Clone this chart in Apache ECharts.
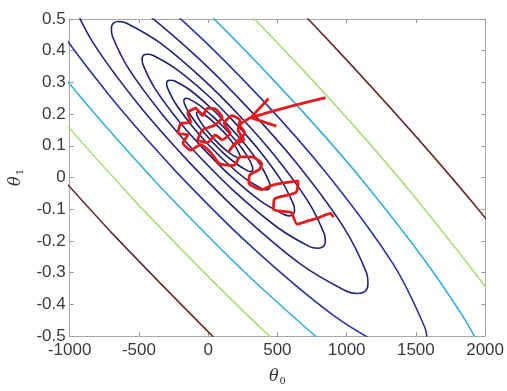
<!DOCTYPE html>
<html><head><meta charset="utf-8">
<script src="https://cdn.jsdelivr.net/npm/echarts@6/dist/echarts.min.js"></script>
<style>html,body{margin:0;padding:0;background:#fff}#c{width:507px;height:391px}</style>
</head><body><div id="c"></div>
<script>
// Axis tick labels
const xTicks = [-1000, -500, 0, 500, 1000, 1500, 2000];
const yTicks = [-0.5, -0.4, -0.3, -0.2, -0.1, 0, 0.1, 0.2, 0.3, 0.4, 0.5];

// Contour lines of J(theta0, theta1), points [theta0, theta1] (inner to outer)
const contour0 = [[42,0.122],[-9,0.148],[-58,0.177],[-82,0.198],[-84,0.203],[-81,0.206],[-73,0.207],[-61,0.206],[-13,0.194],[50,0.170],[105,0.147],[156,0.121],[205,0.092],[229,0.071],[231,0.066],[228,0.063],[220,0.062],[208,0.063],[160,0.075],[97,0.098],[42,0.122]];
const contour1 = [[24,0.115],[-57,0.155],[-134,0.201],[-173,0.235],[-175,0.243],[-170,0.248],[-158,0.250],[-139,0.248],[-64,0.228],[37,0.191],[123,0.154],[204,0.114],[281,0.068],[320,0.034],[322,0.026],[317,0.021],[305,0.019],[286,0.021],[211,0.041],[110,0.077],[24,0.115]];
const contour2 = [[-1,0.105],[-122,0.166],[-238,0.235],[-296,0.285],[-300,0.297],[-293,0.305],[-274,0.307],[-245,0.305],[-132,0.276],[18,0.220],[148,0.163],[269,0.103],[385,0.034],[443,-0.016],[447,-0.029],[440,-0.036],[421,-0.039],[392,-0.036],[279,-0.007],[128,0.049],[-1,0.105]];
const contour3 = [[-37,0.092],[-215,0.180],[-386,0.282],[-471,0.356],[-477,0.375],[-466,0.386],[-439,0.389],[-396,0.385],[-230,0.342],[-7,0.261],[184,0.177],[362,0.089],[533,-0.013],[618,-0.087],[624,-0.106],[613,-0.117],[586,-0.121],[543,-0.116],[377,-0.074],[154,0.008],[-37,0.092]];
const contour4 = [[-81,0.074],[-331,0.199],[-571,0.341],[-691,0.445],[-699,0.471],[-684,0.487],[-645,0.492],[-585,0.486],[-352,0.426],[-40,0.311],[228,0.194],[478,0.070],[718,-0.073],[838,-0.177],[846,-0.203],[831,-0.218],[792,-0.223],[732,-0.218],[499,-0.157],[187,-0.043],[-81,0.074]];
const contour5 = [[-143,0.051],[-492,0.224],[-829,0.424],[-996,0.570],[-1007,0.606],[-986,0.628],[-932,0.635],[-848,0.627],[-523,0.543],[-85,0.382],[290,0.218],[639,0.045],[976,-0.155],[1143,-0.300],[1154,-0.337],[1133,-0.359],[1079,-0.366],[995,-0.358],[670,-0.274],[232,-0.113],[-143,0.051]];
const contour6 = [[-229,0.017],[-716,0.260],[-1185,0.538],[-1418,0.741],[-1434,0.792],[-1404,0.823],[-1329,0.833],[-1212,0.822],[-758,0.704],[-148,0.480],[376,0.252],[863,0.009],[1332,-0.270],[1565,-0.473],[1581,-0.523],[1551,-0.554],[1476,-0.564],[1359,-0.553],[905,-0.435],[295,-0.211],[-229,0.017]];
const contour7 = [[-347,-0.029],[-1025,0.309],[-1679,0.697],[-2003,0.980],[-2025,1.050],[-1984,1.093],[-1880,1.107],[-1716,1.091],[-1084,0.928],[-235,0.616],[494,0.297],[1172,-0.040],[1825,-0.428],[2150,-0.711],[2172,-0.781],[2131,-0.824],[2027,-0.838],[1863,-0.822],[1231,-0.659],[382,-0.347],[-347,-0.029]];
const contour8 = [[-500,-0.088],[-1424,0.373],[-2315,0.901],[-2758,1.287],[-2788,1.383],[-2731,1.441],[-2589,1.460],[-2366,1.439],[-1504,1.216],[-347,0.790],[647,0.357],[1571,-0.104],[2462,-0.633],[2905,-1.018],[2935,-1.114],[2878,-1.173],[2736,-1.191],[2513,-1.170],[1651,-0.947],[494,-0.521],[-500,-0.088]];
const contour9 = [[-709,-0.169],[-1971,0.460],[-3186,1.181],[-3791,1.707],[-3832,1.838],[-3754,1.918],[-3560,1.943],[-3256,1.914],[-2080,1.610],[-500,1.029],[856,0.438],[2118,-0.190],[3333,-0.912],[3938,-1.437],[3979,-1.573],[3901,-1.649],[3707,-1.675],[3403,-1.645],[2227,-1.341],[647,-0.761],[-709,-0.169]];

// Stochastic gradient descent path (hand-drawn red trace)
const sgdPath = [[905,-0.125],[884,-0.113],[791,-0.128],[720,-0.137],[642,-0.147],[600,-0.110],[543,-0.107],[472,-0.101],[479,-0.068],[635,-0.047],[649,-0.011],[472,-0.023],[386,-0.038],[294,-0.017],[301,0.008],[372,0.026],[386,0.044],[315,0.065],[230,0.065],[187,0.038],[81,0.044],[17,0.080],[-55,0.104],[-126,0.086],[-182,0.110],[-147,0.134],[-218,0.140],[-197,0.171],[-126,0.174],[-147,0.204],[-90,0.219],[-40,0.195],[-5,0.219],[52,0.216],[102,0.189],[45,0.165],[-40,0.150],[-76,0.119],[-5,0.110],[52,0.134],[102,0.119],[159,0.140],[116,0.171],[173,0.195],[230,0.180],[216,0.150],[258,0.119],[187,0.104],[145,0.080],[200,0.110],[265,0.140],[230,0.165],[308,0.189]];
const arrowShaft = [[848,0.252],[600,0.225],[400,0.201],[308,0.189]];
const arrowHead = [[436,0.249],[308,0.189],[493,0.162]];

const contours = [contour0, contour1, contour2, contour3, contour4, contour5, contour6, contour7, contour8, contour9];
const contourColors = ['#1e1e6a','#1e1e6a','#1f1f70','#202074','#222278','#252582','#2c33a0','#35aee0','#aedd78','#6b2b2b'];

const chart = echarts.init(document.getElementById('c'), null, {renderer: 'canvas'});
const series = contours.map((d, i) => ({
  type: 'line', data: d, smooth: 0.35, showSymbol: false, symbol: 'none', silent: true,
  lineStyle: {color: contourColors[i], width: 1.6}, z: 2, clip: true
}));
series.push({type: 'line', data: sgdPath, smooth: 0.2, symbol: 'none', silent: true,
  lineStyle: {color: '#e51b1b', width: 2.8}, z: 5, clip: true});
series.push({type: 'line', data: arrowShaft, smooth: 0.3, symbol: 'none', silent: true,
  lineStyle: {color: '#e51b1b', width: 2.8}, z: 5, clip: true});
series.push({type: 'line', data: arrowHead, smooth: false, symbol: 'none', silent: true,
  lineStyle: {color: '#e51b1b', width: 2.8, join: 'round'}, z: 5, clip: true});

const plain = v => String(Math.round(v * 10) / 10);
const labelStyle = {color: '#3a3a3a', fontSize: 17, fontFamily: 'Liberation Sans, Arial, sans-serif', formatter: plain};
const tickStyle = {show: true, inside: true, length: 4, lineStyle: {color: '#9a9a9a'}};
const lineCol = {show: true, onZero: false, lineStyle: {color: '#a8a8a8', width: 1}};
const nameRich = {
  t: {fontFamily: 'DejaVu Serif', fontStyle: 'italic', fontSize: 16, color: '#333'},
  s: {fontFamily: 'DejaVu Serif', fontSize: 10, color: '#333', padding: [9, 0, 0, 1]}
};
chart.setOption({
  animation: false,
  backgroundColor: '#ffffff',
  grid: {left: 65, right: 20, top: 19, bottom: 41, containLabel: false},
  xAxis: [
    {type: 'value', position: 'bottom', min: xTicks[0], max: xTicks[xTicks.length - 1], interval: xTicks[1] - xTicks[0],
     axisLine: lineCol, axisTick: tickStyle, splitLine: {show: false},
     axisLabel: Object.assign({margin: 6}, labelStyle),
     name: '{t|θ}{s|0}', nameLocation: 'middle', nameGap: 31, nameTextStyle: {rich: nameRich}},
    {type: 'value', position: 'top', min: xTicks[0], max: xTicks[xTicks.length - 1], interval: xTicks[1] - xTicks[0],
     axisLine: lineCol, axisTick: tickStyle, splitLine: {show: false}, axisLabel: {show: false}}
  ],
  yAxis: [
    {type: 'value', position: 'left', min: yTicks[0], max: yTicks[yTicks.length - 1], interval: 0.1,
     axisLine: lineCol, axisTick: tickStyle, splitLine: {show: false},
     axisLabel: Object.assign({margin: 4}, labelStyle),
     name: '{t|θ}{s|1}', nameLocation: 'middle', nameRotate: 90, nameGap: 42, nameTextStyle: {rich: nameRich}},
    {type: 'value', position: 'right', min: yTicks[0], max: yTicks[yTicks.length - 1], interval: 0.1,
     axisLine: lineCol, axisTick: tickStyle, splitLine: {show: false}, axisLabel: {show: false}}
  ],
  series: series
});
</script></body></html>
